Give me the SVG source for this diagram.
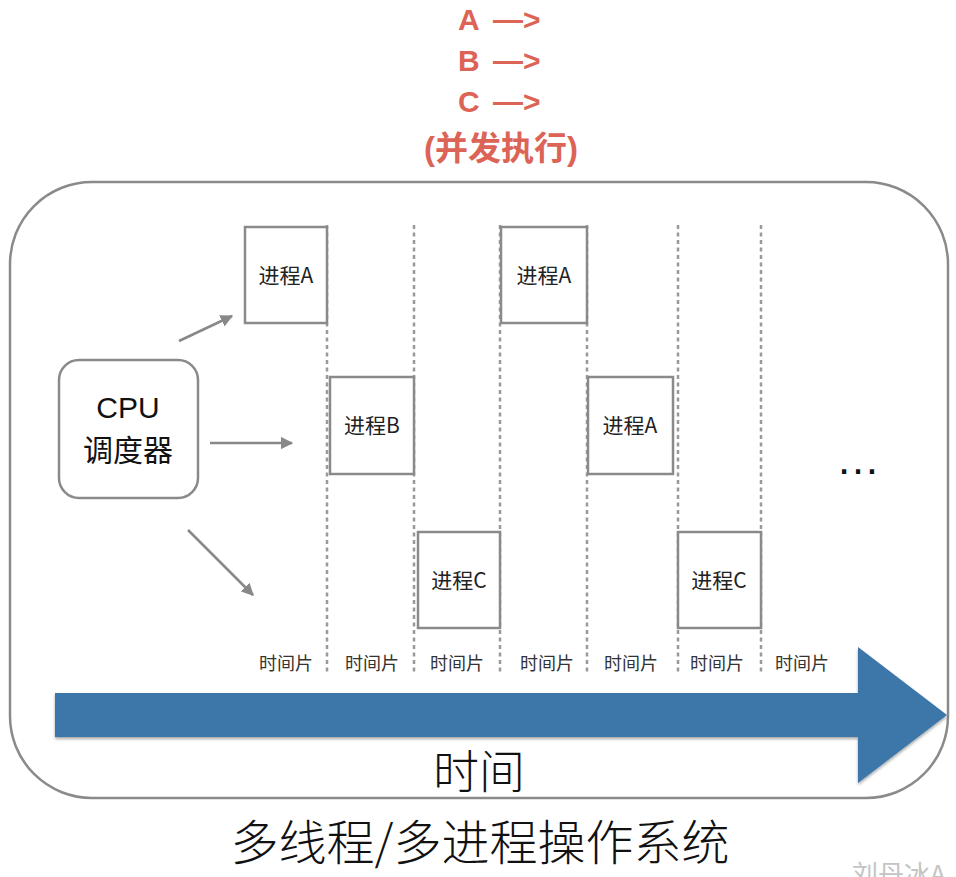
<svg xmlns="http://www.w3.org/2000/svg" width="956" height="877" viewBox="0 0 956 877">
<style>
.red{fill:#dc6457;font-family:"Liberation Sans","Noto Sans CJK SC",sans-serif;font-weight:bold;}
.box{fill:#fff;stroke:#8a8a8a;stroke-width:2.5;}
.lbl{font-family:"Noto Sans CJK SC","Liberation Sans",sans-serif;fill:#222;font-size:21px;text-anchor:middle;}
.ts{font-family:"Noto Sans CJK SC",sans-serif;fill:#333;font-size:18px;text-anchor:middle;}
.dash{stroke:#999;stroke-width:2.5;stroke-dasharray:4 3.5;fill:none;}
.conn{stroke:#888;stroke-width:2.5;fill:none;marker-end:url(#ah);}
</style>
<defs>
<marker id="ah" viewBox="0 0 10 10" refX="9" refY="5" markerWidth="5" markerHeight="5" orient="auto" markerUnits="strokeWidth">
<path d="M0,0 L10,5 L0,10 z" fill="#888"/>
</marker>
<filter id="sh" x="-5%" y="-20%" width="110%" height="140%">
<feDropShadow dx="0" dy="2" stdDeviation="1.5" flood-color="#000" flood-opacity="0.35"/>
</filter>
</defs>
<rect width="956" height="877" fill="#fff"/>
<g id="title">
<text class="red" x="458" y="30" font-size="30">A</text><text class="red" x="493" y="30" font-size="30">—&gt;</text>
<text class="red" x="458" y="71" font-size="30">B</text><text class="red" x="493" y="71" font-size="30">—&gt;</text>
<text class="red" x="458" y="112" font-size="30">C</text><text class="red" x="493" y="112" font-size="30">—&gt;</text>
<text class="red" x="501" y="160" font-size="33" text-anchor="middle">(并发执行)</text>
</g>
<g id="os-frame">
<rect x="10" y="182" width="938" height="616" rx="82" ry="82" fill="none" stroke="#8a8a8a" stroke-width="2.5"/>
</g>
<g id="timeline-dashes">
<line class="dash" x1="327" y1="225" x2="327" y2="672"/>
<line class="dash" x1="414" y1="225" x2="414" y2="672"/>
<line class="dash" x1="500" y1="225" x2="500" y2="672"/>
<line class="dash" x1="587" y1="225" x2="587" y2="672"/>
<line class="dash" x1="678" y1="225" x2="678" y2="672"/>
<line class="dash" x1="761" y1="225" x2="761" y2="672"/>
</g>
<g id="cpu">
<rect x="59" y="360" width="139" height="138" rx="20" ry="20" fill="#fff" stroke="#8a8a8a" stroke-width="2.5"/>
<text x="128" y="418" font-family="Liberation Sans,Noto Sans CJK SC,sans-serif" font-size="30" fill="#111" text-anchor="middle">CPU</text>
<text x="128" y="461" font-family="Noto Sans CJK SC,sans-serif" font-size="30" fill="#111" text-anchor="middle">调度器</text>
</g>
<g id="procA1"><rect class="box" x="245" y="227" width="82" height="96"/><text class="lbl" x="286" y="283">进程A</text></g>
<g id="procB1"><rect class="box" x="330" y="377" width="84" height="97"/><text class="lbl" x="372" y="433">进程B</text></g>
<g id="procC1"><rect class="box" x="418" y="532" width="82" height="96"/><text class="lbl" x="459" y="588">进程C</text></g>
<g id="procA2"><rect class="box" x="501" y="227" width="86" height="96"/><text class="lbl" x="544" y="283">进程A</text></g>
<g id="procA3"><rect class="box" x="588" y="377" width="85" height="97"/><text class="lbl" x="630" y="433">进程A</text></g>
<g id="procC2"><rect class="box" x="678" y="532" width="83" height="96"/><text class="lbl" x="719" y="588">进程C</text></g>
<g id="connectors">
<line class="conn" x1="179" y1="341" x2="232" y2="316"/>
<line class="conn" x1="210" y1="443" x2="292" y2="443"/>
<line class="conn" x1="188" y1="530" x2="253" y2="595"/>
</g>
<g id="slices">
<text class="ts" x="286" y="670">时间片</text>
<text class="ts" x="372" y="670">时间片</text>
<text class="ts" x="457" y="670">时间片</text>
<text class="ts" x="547" y="670">时间片</text>
<text class="ts" x="631" y="670">时间片</text>
<text class="ts" x="717" y="670">时间片</text>
<text class="ts" x="802" y="670">时间片</text>
</g>
<g id="ellipsis">
<text x="836" y="474" font-family="Liberation Sans,sans-serif" font-size="44" fill="#111">…</text>
</g>
<g id="time-arrow">
<path d="M55,693 L858,693 L858,647 L947,715 L858,783 L858,737 L55,737 Z" fill="#3e77aa" filter="url(#sh)"/>
<text x="479" y="788" font-family="Noto Sans CJK SC,sans-serif" font-size="46" font-weight="300" fill="#111" text-anchor="middle">时间</text>
</g>
<g id="caption">
<text x="480" y="860" font-family="Noto Sans CJK SC,sans-serif" font-size="48" font-weight="300" fill="#111" text-anchor="middle">多线程/多进程操作系统</text>
</g>
<g id="watermark">
<text x="852" y="884" font-family="Noto Sans CJK SC,sans-serif" font-size="26" fill="#c4c4c4">刘丹冰A</text>
</g>
</svg>
